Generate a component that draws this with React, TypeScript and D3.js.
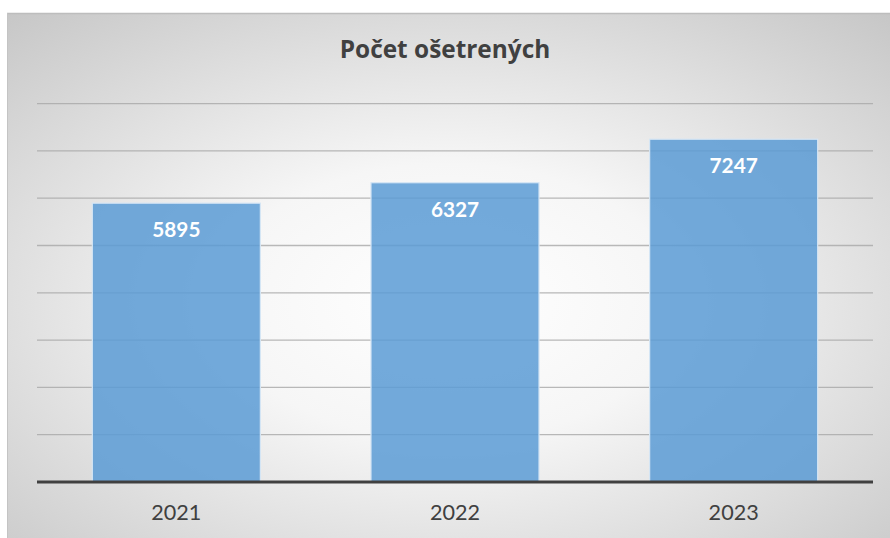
import React from "react";
import * as d3 from "d3";

const categories = ["2021", "2022", "2023"];
const values = [5895, 6327, 7247];
const yTicks = [1000, 2000, 3000, 4000, 5000, 6000, 7000, 8000];
const title = "Počet ošetrených";

export default function App() {
  const W = 890, H = 538;
  const left = 37, right = 873, top = 103.6, bottom = 482;
  const x = d3.scaleBand<string>().domain(categories).range([left, right]).paddingInner(0.397).paddingOuter(0.1985);
  const y = d3.scaleLinear().domain([0, 8000]).range([bottom, top]);
  const font = "Lato, 'Open Sans', sans-serif";
  return (
    <svg width={W} height={H} style={{ position: "absolute", left: 0, top: 0 }}>
      <defs>
        <radialGradient id="bg" cx="0.5" cy="0.55" r="0.75" gradientUnits="objectBoundingBox">
          <stop offset="0" stopColor="#ffffff" />
          <stop offset="0.35" stopColor="#f6f6f6" />
          <stop offset="1" stopColor="#c6c6c6" />
        </radialGradient>
      </defs>
      <rect x={0} y={0} width={W} height={H} fill="#fff" />
      <rect x={7} y={13} width={W - 7} height={H - 13} fill="url(#bg)" />
      <line x1={7} x2={W} y1={13.5} y2={13.5} stroke="#bdbdbd" strokeWidth={1.5} />
      <line x1={7.5} x2={7.5} y1={13} y2={H} stroke="#c4c4c4" strokeWidth={1} />
      <text x={445} y={58} textAnchor="middle" fontFamily="'Open Sans', sans-serif" fontWeight="bold" fontSize={24.4} fill="#404040">{title}</text>
      {yTicks.map((t) => (
        <line key={t} x1={left} x2={right} y1={y(t)} y2={y(t)} stroke="#a8a8a8" strokeOpacity={0.8} strokeWidth={1.3} />
      ))}
      {categories.map((c, i) => (
        <g key={c}>
          <rect x={x(c)!} y={y(values[i])} width={x.bandwidth()} height={bottom - y(values[i])}
            fill="#5b9bd5" fillOpacity={0.85} stroke="#d6e6f5" strokeWidth={1.2} />
          <text x={x(c)! + x.bandwidth() / 2} y={y(values[i]) + 34} textAnchor="middle" fontFamily={font}
            fontWeight="bold" fontSize={20.8} fill="#ffffff">{values[i]}</text>
          <text x={x(c)! + x.bandwidth() / 2} y={520} textAnchor="middle" fontFamily={font}
            fontSize={21.6} fill="#404040">{c}</text>
        </g>
      ))}
      <line x1={left} x2={right} y1={bottom} y2={bottom} stroke="#404040" strokeWidth={3} />
    </svg>
  );
}
